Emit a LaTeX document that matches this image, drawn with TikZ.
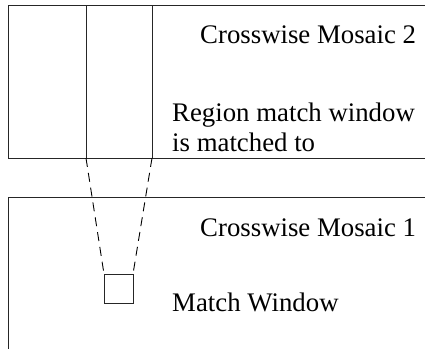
\documentclass[tikz,border=0pt]{standalone}
\usepackage{fontspec}
\setmainfont{Liberation Serif}
\begin{document}
\begin{tikzpicture}[x=1pt,y=-1pt,
  edge/.style={line width=1pt,draw=black!85},
  frame/.style={edge,rectangle,inner sep=0pt,outer sep=0pt},
  link/.style={line width=0.9pt,dash pattern=on 9pt off 6pt},
  label/.style={anchor=base west,inner sep=0pt,font=\fontsize{26.8}{30}\selectfont}]
  \useasboundingbox (0,0) rectangle (425,348);
  % mosaic outlines (open on the right and below)
  \draw[edge] (426,5) -- (8,5) -- (8,158) -- (426,158);
  \draw[edge] (426,197) -- (8,197) -- (8,349);
  % region in mosaic 2 and the match window in mosaic 1
  \node[frame,minimum width=66pt,minimum height=153pt] (region) at (119,81.5) {};
  \node[frame,minimum width=29pt,minimum height=29pt] (window) at (118.5,288.5) {};
  % projection of the window onto the region
  \draw[link] (region.south west) -- (window.north west);
  \draw[link] (region.south east) -- (window.north east);
  % captions
  \node[label] (m2) at (200,43) {Crosswise Mosaic 2};
  \node[label] (r1) at (172,121.5) {Region match window};
  \node[label] (r2) at (172,151.5) {is matched to};
  \node[label] (m1) at (200,236) {Crosswise Mosaic 1};
  \node[label] (mw) at (172,311.5) {Match Window};
\end{tikzpicture}
\end{document}
